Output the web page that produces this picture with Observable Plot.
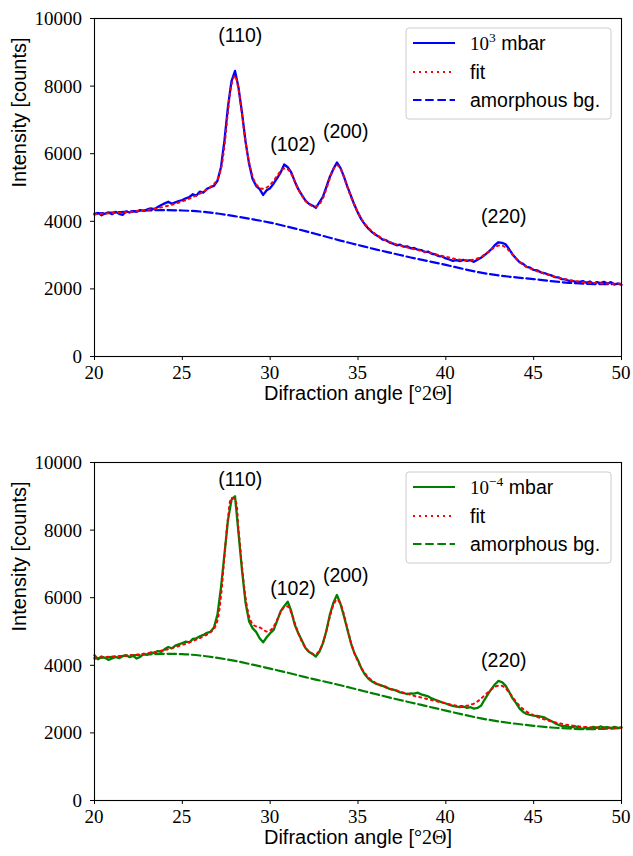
<!DOCTYPE html>
<html><head><meta charset="utf-8">
<script src="https://cdn.jsdelivr.net/npm/d3@7"></script>
<script src="https://cdn.jsdelivr.net/npm/@observablehq/plot@0.6"></script>
<style>body{margin:0;background:#fff} #chart svg{display:block}</style>
</head><body><div id="chart"></div>
<script>
// measurement grid (degrees 2θ) – 0.2° sampling, background at 1° sampling
const angles = d3.range(0, 151).map(i => +(20 + i * 0.2).toFixed(1));
const bgAngles = d3.range(20, 51);

const topMeasured = [
  4200,4250,4180,4230,4260,4210,4280,4220,4190,4290,
  4260,4300,4280,4330,4310,4350,4380,4360,4420,4480,
  4530,4580,4520,4560,4600,4630,4680,4720,4800,4760,
  4880,4850,4960,5010,5050,5200,5600,6400,7400,8150,
  8450,7950,7200,6350,5700,5250,5050,4950,4780,4920,
  4980,5120,5280,5450,5680,5600,5450,5180,4950,4780,
  4620,4520,4470,4400,4560,4720,5020,5320,5550,5740,
  5580,5320,5020,4750,4480,4250,4050,3900,3780,3680,
  3600,3540,3460,3440,3370,3340,3290,3310,3250,3260,
  3200,3210,3160,3150,3090,3100,3040,3020,2970,2960,
  2900,2870,2830,2850,2820,2860,2830,2850,2800,2860,
  2920,3000,3080,3180,3300,3380,3360,3320,3180,3020,
  2900,2790,2740,2650,2630,2560,2550,2490,2470,2430,
  2400,2350,2340,2290,2280,2240,2240,2210,2210,2230,
  2180,2220,2150,2200,2170,2210,2160,2200,2130,2160,
  2120];
const topFit = [
  4210,4215,4220,4228,4235,4240,4248,4255,4262,4270,
  4278,4288,4298,4310,4322,4336,4352,4370,4390,4412,
  4436,4462,4490,4520,4552,4588,4628,4670,4716,4766,
  4820,4878,4940,5010,5100,5240,5550,6250,7250,8050,
  8300,7900,7150,6350,5750,5330,5100,4990,4960,5000,
  5080,5200,5350,5490,5560,5540,5400,5180,4950,4760,
  4610,4510,4450,4440,4510,4680,4960,5280,5540,5660,
  5560,5310,5010,4720,4470,4250,4070,3920,3800,3700,
  3615,3545,3485,3435,3390,3350,3315,3285,3255,3228,
  3200,3175,3150,3125,3100,3075,3050,3025,3000,2975,
  2950,2925,2900,2880,2865,2855,2850,2855,2870,2900,
  2945,3010,3090,3170,3240,3280,3280,3230,3130,3010,
  2895,2800,2720,2655,2605,2560,2520,2485,2450,2420,
  2390,2360,2335,2310,2285,2265,2245,2230,2215,2200,
  2190,2180,2175,2170,2165,2160,2158,2155,2152,2150,
  2150];
const topBackground = [4230,4260,4290,4320,4330,4320,4290,4230,4150,4060,3960,3840,3710,3570,3430,3300,3170,3050,2930,2820,2710,2590,2480,2400,2340,2290,2230,2180,2150,2140,2150];

const bottomMeasured = [
  4300,4180,4260,4220,4160,4200,4250,4210,4270,4300,
  4240,4280,4200,4250,4340,4310,4380,4360,4420,4400,
  4480,4540,4500,4580,4620,4660,4700,4680,4780,4800,
  4860,4900,4960,4990,5120,5500,6300,7300,8300,8900,
  9000,7900,6800,5850,5300,5100,4990,4800,4680,4830,
  4950,5050,5320,5600,5750,5880,5600,5200,4950,4740,
  4520,4400,4340,4260,4400,4650,5020,5500,5850,6080,
  5820,5450,5050,4650,4350,4150,3900,3720,3600,3520,
  3460,3430,3390,3360,3300,3280,3250,3200,3180,3150,
  3170,3160,3190,3140,3110,3080,3020,2980,2940,2900,
  2870,2830,2800,2780,2760,2780,2740,2760,2720,2740,
  2800,2980,3150,3300,3440,3540,3500,3400,3220,3020,
  2880,2720,2620,2560,2530,2510,2500,2480,2460,2400,
  2350,2290,2240,2210,2200,2180,2170,2190,2150,2120,
  2160,2130,2180,2150,2190,2160,2170,2140,2180,2150,
  2160];
const bottomFit = [
  4230,4235,4240,4245,4250,4255,4262,4270,4278,4286,
  4295,4305,4315,4327,4340,4354,4370,4388,4408,4430,
  4454,4480,4508,4538,4570,4604,4640,4678,4718,4760,
  4805,4855,4910,4975,5080,5330,6050,7250,8350,8950,
  8900,8000,6900,6000,5450,5220,5150,5120,5060,5000,
  5030,5150,5350,5570,5720,5740,5560,5260,4960,4710,
  4530,4410,4340,4330,4430,4660,5020,5440,5780,5940,
  5820,5500,5080,4680,4360,4110,3910,3760,3640,3550,
  3480,3425,3380,3340,3305,3275,3245,3218,3192,3168,
  3120,3095,3070,3045,3020,2995,2970,2945,2920,2900,
  2880,2850,2825,2805,2795,2795,2805,2830,2870,2930,
  3010,3110,3200,3290,3360,3400,3390,3320,3200,3060,
  2920,2800,2705,2630,2570,2520,2475,2435,2400,2370,
  2340,2315,2290,2268,2248,2230,2215,2202,2190,2180,
  2172,2166,2162,2158,2155,2153,2152,2151,2150,2150,
  2150];
const bottomBackground = [4200,4250,4290,4320,4340,4330,4290,4220,4130,4020,3900,3780,3650,3530,3410,3280,3150,3020,2900,2780,2660,2540,2430,2340,2270,2210,2160,2130,2110,2120,2140];

const peakLabels = ["(110)", "(102)", "(200)", "(220)"];
const peakLabelAngles = [28.3, 31.3, 34.3, 43.3];
const peakLabelCounts = [9480, 6260, 6640, 4140];

const xTicks = [20, 25, 30, 35, 40, 45, 50];
const yTicks = [0, 2000, 4000, 6000, 8000, 10000];
const xLabel = "Difraction angle [°2Θ]";
const yLabel = "Intensity [counts]";
const legendFit = "fit";
const legendBg = "amorphous bg.";

const SANS = "'Liberation Sans', Arial, Helvetica, sans-serif";
const SERIF = "'Liberation Serif', 'Times New Roman', serif";
const DOT = "2,4";
const DASH = "8.5,3.7";

function panel({measured, fit, background, color, exponent, marginTop, marginBottom, height}) {
  const rows = angles.map((a, i) => ({a, v: measured[i], f: fit[i]}));
  const bgRows = bgAngles.map((a, i) => ({a, v: background[i]}));
  const peaks = peakLabels.map((t, i) => ({t, a: peakLabelAngles[i], c: peakLabelCounts[i]}));
  const svg = Plot.plot({
    width: 633, height, marginLeft: 94, marginRight: 12, marginTop, marginBottom,
    style: {fontFamily: SERIF, fontSize: "19px", color: "#000", background: "#fff", overflow: "visible"},
    x: {domain: [20, 50], label: null},
    y: {domain: [0, 10000], label: null},
    marks: [
      Plot.line(bgRows, {x: "a", y: "v", stroke: color, strokeWidth: 2.2, strokeDasharray: DASH, curve: "monotone-x"}),
      Plot.line(rows, {x: "a", y: "v", stroke: color, strokeWidth: 2.3}),
      Plot.line(rows, {x: "a", y: "f", stroke: "#ff0000", strokeWidth: 2, strokeDasharray: DOT, curve: "catmull-rom"}),
      Plot.text(peaks, {x: "a", y: "c", text: "t", fontFamily: SANS, fontSize: 19.5, fill: "#000"}),
      Plot.text([xLabel], {text: d => d, frameAnchor: "bottom", dy: 43, fontFamily: SANS, fontSize: 20, fill: "#000"}),
      Plot.text([yLabel], {text: d => d, frameAnchor: "left", dx: -75, rotate: -90, fontFamily: SANS, fontSize: 20, fill: "#000"}),
      Plot.axisX({ticks: xTicks, tickSize: 4, tickFormat: "d", label: null}),
      Plot.axisY({ticks: yTicks, tickSize: 4, tickFormat: "d", label: null}),
      Plot.frame({stroke: "#000", strokeWidth: 1.1})
    ]
  });
  const s = d3.select(svg);
  // replace the axis tick labels by serif ones positioned with Plot's own scales
  const tickStrings = new Set([...xTicks, ...yTicks].map(String));
  s.selectAll("text").filter(function() { return tickStrings.has(this.textContent.trim()); }).remove();
  const sx = svg.scale("x"), sy = svg.scale("y");
  const frameBottom = height - marginBottom, frameLeft = 94;
  const tg = s.append("g").attr("fill", "#000").attr("font-family", SERIF).attr("font-size", 19);
  xTicks.forEach(v => tg.append("text").attr("x", sx.apply(v)).attr("y", frameBottom + 23)
    .attr("text-anchor", "middle").attr("font-family", SERIF).style("font-family", SERIF).text(String(v)));
  yTicks.forEach(v => tg.append("text").attr("x", frameLeft - 12).attr("y", sy.apply(v) + 7)
    .attr("text-anchor", "end").attr("font-family", SERIF).style("font-family", SERIF).text(String(v)));
  // mixed-font x label
  s.selectAll("text").filter(function() { return this.textContent === xLabel; }).each(function() {
    const t = d3.select(this); t.text(null);
    t.append("tspan").text("Difraction angle [");
    t.append("tspan").attr("font-family", SERIF).text("°2Θ");
    t.append("tspan").text("]");
  });
  // legend
  const lx = 406, ly = marginTop + 10;
  const g = s.append("g").attr("text-anchor", "start");
  g.append("rect").attr("x", lx).attr("y", ly).attr("width", 205).attr("height", 91).attr("rx", 3)
    .attr("fill", "#fff").attr("fill-opacity", 0.8).attr("stroke", "#cccccc").attr("stroke-width", 1);
  const entries = [
    {dash: null, stroke: color},
    {dash: DOT, stroke: "#ff0000"},
    {dash: DASH, stroke: color}
  ];
  const offs = [15, 44, 72];
  entries.forEach((e, i) => {
    const yy = ly + offs[i];
    g.append("line").attr("x1", 413).attr("x2", 455).attr("y1", yy).attr("y2", yy)
      .attr("stroke", e.stroke).attr("stroke-width", 2.2).attr("stroke-dasharray", e.dash);
    const t = g.append("text").attr("x", 470).attr("y", yy + 7).attr("fill", "#000")
      .attr("text-anchor", "start").attr("font-family", SANS).attr("font-size", 19.5);
    if (i === 0) {
      t.append("tspan").attr("font-family", SERIF).attr("font-size", 19).text("10");
      t.append("tspan").attr("font-family", SERIF).attr("font-size", 13.5).attr("dy", -8).text(exponent);
      t.append("tspan").attr("dy", 8).text(" mbar");
    } else {
      t.text(i === 1 ? legendFit : legendBg);
    }
  });
  return svg;
}

const chart = document.getElementById("chart");
chart.appendChild(panel({measured: topMeasured, fit: topFit, background: topBackground, color: "#0000ff", exponent: "3", marginTop: 18, marginBottom: 72, height: 428}));
chart.appendChild(panel({measured: bottomMeasured, fit: bottomFit, background: bottomBackground, color: "#008000", exponent: "−4", marginTop: 34, marginBottom: 56, height: 428}));
</script>
</body></html>
